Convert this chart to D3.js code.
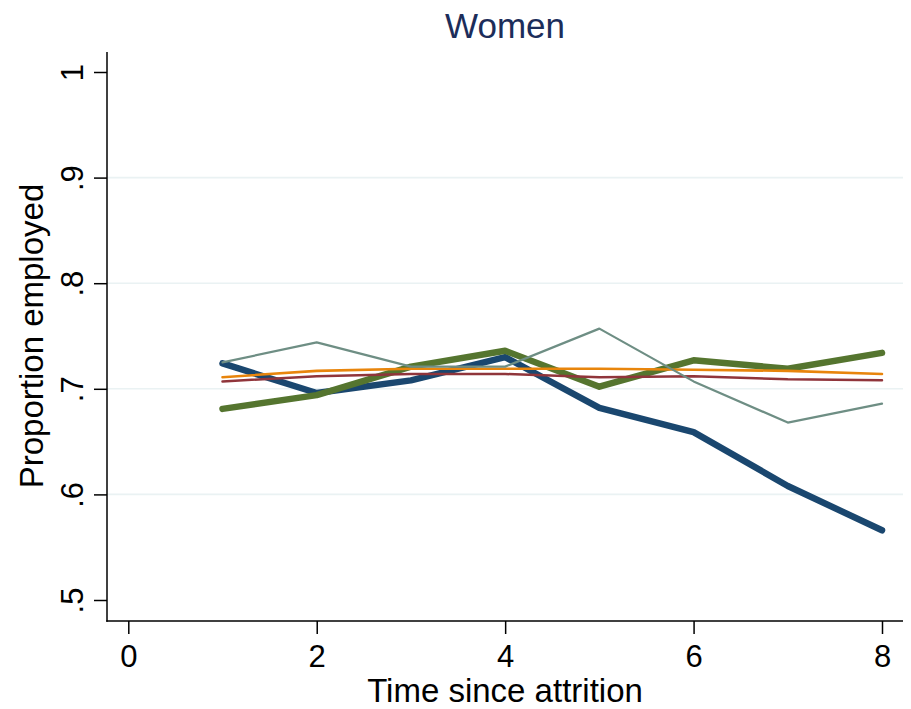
<!DOCTYPE html>
<html>
<head>
<meta charset="utf-8">
<script src="https://cdn.jsdelivr.net/npm/d3@7"></script>
<style>
  html, body { margin: 0; padding: 0; background: #fff; }
  svg { display: block; font-family: "Liberation Sans", Arial, Helvetica, sans-serif; }
</style>
</head>
<body>
<svg id="chart" width="911" height="709"></svg>
<script>
// ---- data ----
const timePoints = [1, 2, 3, 4, 5, 6, 7, 8];
const seriesNavy   = [0.724, 0.696, 0.708, 0.730, 0.682, 0.659, 0.608, 0.566];
const seriesGreen  = [0.681, 0.694, 0.721, 0.736, 0.702, 0.727, 0.719, 0.734];
const seriesMaroon = [0.707, 0.712, 0.714, 0.714, 0.711, 0.712, 0.709, 0.708];
const seriesOrange = [0.711, 0.717, 0.719, 0.719, 0.719, 0.718, 0.717, 0.714];
const seriesTeal   = [0.725, 0.744, 0.721, 0.721, 0.757, 0.707, 0.668, 0.686];
const xTicks = [0, 2, 4, 6, 8];
const yTicks = [0.5, 0.6, 0.7, 0.8, 0.9, 1];
const yGrid = [0.6, 0.7, 0.8, 0.9];
const yTickLabels = [".5", ".6", ".7", ".8", ".9", "1"];
const titleText = "Women";
const xTitle = "Time since attrition";
const yTitle = "Proportion employed";

const series = [
  { values: seriesNavy,   color: "#1a476f", width: 6.5 },
  { values: seriesGreen,  color: "#55752f", width: 6.5 },
  { values: seriesMaroon, color: "#90353b", width: 2.5 },
  { values: seriesOrange, color: "#e8850c", width: 2.6 },
  { values: seriesTeal,   color: "#6e8e84", width: 2.2 }
];

// ---- layout ----
const svg = d3.select("#chart");
const x = d3.scaleLinear().domain([0, 8]).range([128.3, 882]);
const y = d3.scaleLinear().domain([0.5, 1]).range([600, 72]);
const plotLeft = 107, plotRight = 903, plotTop = 52, plotBottom = 621;

// gridlines
svg.append("g").selectAll("line").data(yGrid).join("line")
  .attr("x1", plotLeft).attr("x2", plotRight)
  .attr("y1", d => y(d)).attr("y2", d => y(d))
  .attr("stroke", "#eaf2f3").attr("stroke-width", 1.6);

// axes
const xAxis = svg.append("g").attr("transform", `translate(0,${plotBottom})`)
  .call(d3.axisBottom(x).tickValues(xTicks).tickSize(13).tickSizeOuter(0).tickFormat(d3.format("d")));
xAxis.select(".domain").remove();
xAxis.selectAll(".tick line").attr("stroke", "#000").attr("stroke-width", 1.5);
xAxis.selectAll(".tick text").attr("y", 46).attr("dy", 0)
  .attr("font-size", 31).attr("fill", "#000");

const yAxis = svg.append("g").attr("transform", `translate(${plotLeft},0)`)
  .call(d3.axisLeft(y).tickValues(yTicks).tickSize(13).tickSizeOuter(0)
    .tickFormat((d, i) => yTickLabels[i]));
yAxis.select(".domain").remove();
yAxis.selectAll(".tick line").attr("stroke", "#000").attr("stroke-width", 1.5);
yAxis.selectAll(".tick text")
  .attr("x", null).attr("dy", 0)
  .attr("transform", "translate(-24,0) rotate(-90)")
  .attr("text-anchor", "middle")
  .attr("font-size", 31).attr("fill", "#000");

// axis lines
svg.append("line").attr("x1", plotLeft).attr("x2", plotLeft)
  .attr("y1", plotTop).attr("y2", plotBottom + 0.75)
  .attr("stroke", "#000").attr("stroke-width", 1.5);
svg.append("line").attr("x1", plotLeft - 0.75).attr("x2", plotRight)
  .attr("y1", plotBottom).attr("y2", plotBottom)
  .attr("stroke", "#000").attr("stroke-width", 1.5);

// lines
const line = d3.line().x((d, i) => x(timePoints[i])).y(d => y(d));
svg.append("g").selectAll("path").data(series).join("path")
  .attr("d", d => line(d.values))
  .attr("fill", "none")
  .attr("stroke", d => d.color)
  .attr("stroke-width", d => d.width)
  .attr("stroke-linecap", "round")
  .attr("stroke-linejoin", "round");

// titles
svg.append("text").attr("x", 505).attr("y", 38).attr("text-anchor", "middle")
  .attr("font-size", 35).attr("fill", "#1c2d5a").text(titleText);
svg.append("text").attr("x", 505).attr("y", 702).attr("text-anchor", "middle")
  .attr("font-size", 33).attr("fill", "#000").text(xTitle);
svg.append("text").attr("transform", "translate(43,336) rotate(-90)")
  .attr("text-anchor", "middle")
  .attr("font-size", 33).attr("fill", "#000").text(yTitle);
</script>
</body>
</html>
